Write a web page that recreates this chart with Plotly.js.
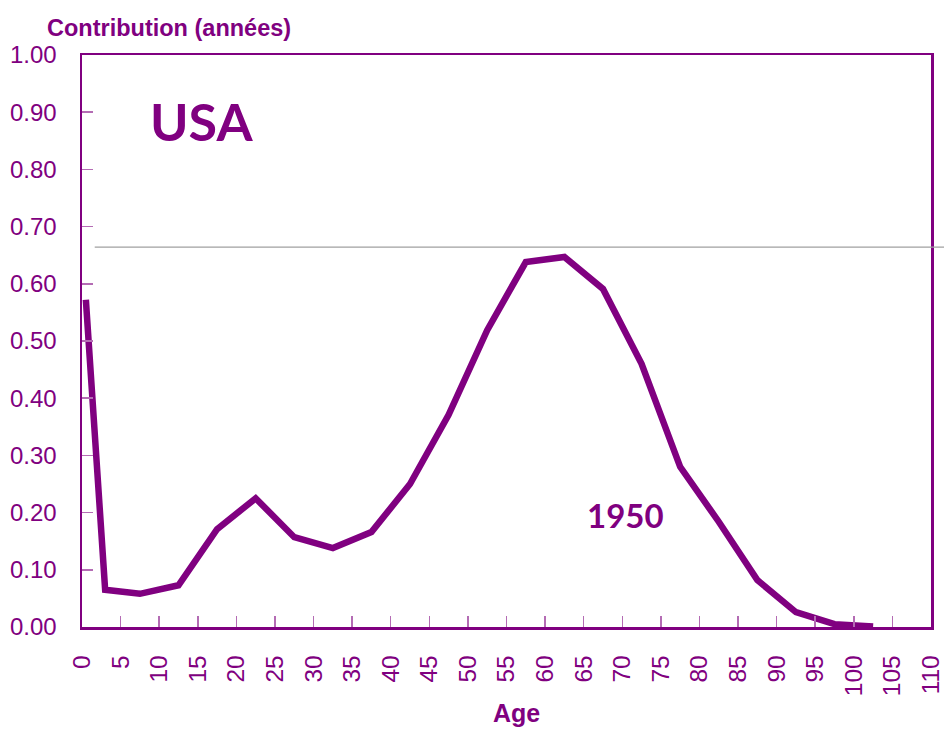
<!DOCTYPE html>
<html><head><meta charset="utf-8">
<script src="https://cdn.plot.ly/plotly-3.0.1.min.js"></script>
<style>html,body{margin:0;padding:0;background:#fff}#c{width:944px;height:731px}</style>
</head><body><div id="c"></div>
<script>
const ages = [0.5, 3, 7.5, 12.5, 17.5, 22.5, 27.5, 32.5, 37.5, 42.5, 47.5, 52.5, 57.5, 62.5, 67.5, 72.5, 77.5, 82.5, 87.5, 92.5, 97.5, 102.5];
const contrib1950 = [0.572, 0.065, 0.058, 0.073, 0.171, 0.225, 0.157, 0.138, 0.166, 0.250, 0.371, 0.519, 0.638, 0.647, 0.591, 0.460, 0.280, 0.184, 0.082, 0.026, 0.005, 0.001];
const refLevel = 0.664;
const xTicks = [0,5,10,15,20,25,30,35,40,45,50,55,60,65,70,75,80,85,90,95,100,105,110];
const yTicks = [0,0.1,0.2,0.3,0.4,0.5,0.6,0.7,0.8,0.9,1.0];

const purple = '#800080';
const tickCol = '#b46cb4';
const font = 'Liberation Sans, Arial, sans-serif';

const traces = [{
  x: ages, y: contrib1950, type: 'scatter', mode: 'lines',
  line: {color: purple, width: 6.5}, hoverinfo: 'skip'
}];

const layout = {
  width: 944, height: 731,
  margin: {l: 82, r: 13, t: 55, b: 104},
  paper_bgcolor: '#fff', plot_bgcolor: '#fff',
  showlegend: false,
  xaxis: {
    range: [0, 110], tickvals: xTicks, ticktext: xTicks.map(String),
    tickangle: -90, ticks: 'inside', ticklen: 11, tickwidth: 1.5, tickcolor: tickCol,
    showgrid: false, zeroline: false,
    showline: true, linecolor: purple, linewidth: 2.5, mirror: true,
    tickfont: {family: font, size: 24.5, color: purple},
    ticklabelstandoff: 16, ticklabeloverflow: 'allow'
  },
  yaxis: {
    range: [0, 1.0], tickvals: yTicks, tickformat: '.2f',
    ticks: 'inside', ticklen: 11, tickwidth: 1.5, tickcolor: tickCol,
    showgrid: false, zeroline: false,
    showline: true, linecolor: purple, linewidth: 2.5, mirror: true,
    tickfont: {family: font, size: 24, color: purple},
    ticklabelstandoff: 18
  },
  shapes: [{
    type: 'line', xref: 'paper', yref: 'y', x0: 0.015, x1: 1.02, y0: refLevel, y1: refLevel,
    line: {color: '#a0a0a0', width: 1.2}
  }],
  annotations: [
    {text: 'Contribution (années)', xref: 'paper', yref: 'paper', x: -0.044, y: 1.0, yshift: 12,
     xanchor: 'left', yanchor: 'bottom', showarrow: false,
     font: {family: font, size: 23.5, color: purple, weight: 'bold'}},
    {text: 'Age', xref: 'paper', yref: 'paper', x: 0.512, y: 0, yshift: -86,
     xanchor: 'center', yanchor: 'middle', showarrow: false,
     font: {family: font, size: 25, color: purple, weight: 'bold'}},
    {text: 'USA', xref: 'x', yref: 'y', x: 8.6, y: 0.885, xanchor: 'left', yanchor: 'middle', showarrow: false,
     font: {family: 'Lato, sans-serif', size: 52, color: purple, weight: 'bold'}},
    {text: '1950', xref: 'x', yref: 'y', x: 65.2, y: 0.195, xanchor: 'left', yanchor: 'middle', showarrow: false,
     font: {family: 'Lato, sans-serif', size: 33, color: purple, weight: 'bold'}}
  ]
};

Plotly.newPlot('c', traces, layout, {displayModeBar: false, staticPlot: true});
</script></body></html>
